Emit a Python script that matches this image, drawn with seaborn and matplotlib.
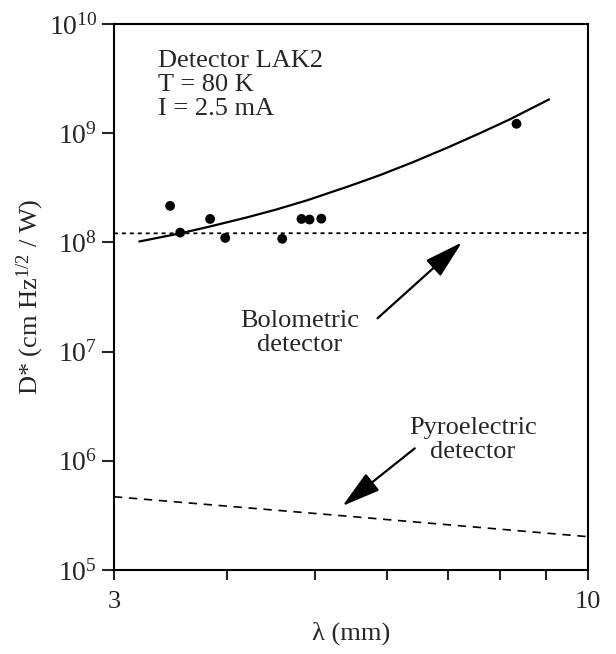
import matplotlib
matplotlib.use("Agg")
import matplotlib.pyplot as plt
import matplotlib.ticker as mticker
import seaborn as sns
import pandas as pd

# measured detectivity of LAK2 (dots)
lam_meas = [3.46, 3.55, 3.83, 3.98, 4.60, 4.83, 4.93, 5.08, 8.34]
dstar_meas = [2.16e8, 1.23e8, 1.64e8, 1.10e8, 1.08e8, 1.64e8, 1.62e8, 1.65e8, 1.22e9]

# solid fit curve
lam_fit = [3.20, 3.55, 3.83, 4.20, 4.53, 4.90, 5.46, 5.90, 6.40, 6.98, 7.60, 8.20, 9.06]
dstar_fit = [1.02e8, 1.21e8, 1.40e8, 1.69e8, 2.00e8, 2.43e8, 3.29e8, 4.14e8,
             5.40e8, 7.31e8, 1.00e9, 1.34e9, 2.04e9]

# reference detectors
lam_bolo = [3.0, 10.0]
dstar_bolo = [1.21e8, 1.22e8]
lam_pyro = [3.0, 5.24, 10.0]
dstar_pyro = [4.69e5, 3.19e5, 2.02e5]

sns.set_style("ticks")
plt.rcParams["font.family"] = ["Liberation Serif", "DejaVu Serif"]
plt.rcParams["mathtext.fontset"] = "custom"
plt.rcParams["mathtext.rm"] = "Liberation Serif"
plt.rcParams["mathtext.it"] = "Liberation Serif:italic"
plt.rcParams["font.size"] = 19

fig = plt.figure(figsize=(6.16, 6.54), dpi=100)
ax = fig.add_axes([0.185, 0.1284, 0.7695, 0.8349])
ax.set_xscale("log")
ax.set_yscale("log")

meas = pd.DataFrame({"lam": lam_meas, "d": dstar_meas})
fit = pd.DataFrame({"lam": lam_fit, "d": dstar_fit})
bolo = pd.DataFrame({"lam": lam_bolo, "d": dstar_bolo})
pyro = pd.DataFrame({"lam": lam_pyro, "d": dstar_pyro})

sns.lineplot(data=fit, x="lam", y="d", color="black", lw=1.6, ax=ax)
sns.lineplot(data=bolo, x="lam", y="d", color="black", lw=1.3,
             linestyle=(0, (2.2, 2.2)), ax=ax)
sns.lineplot(data=pyro, x="lam", y="d", color="black", lw=1.2,
             linestyle=(0, (5, 4)), ax=ax)
sns.scatterplot(data=meas, x="lam", y="d", color="black", s=50,
                edgecolor="none", zorder=5, ax=ax)

ax.set_xlim(3, 10)
ax.set_ylim(1e5, 1e10)

ax.xaxis.set_major_locator(mticker.FixedLocator([3, 10]))
ax.xaxis.set_major_formatter(mticker.FixedFormatter(["3", "10"]))
ax.xaxis.set_minor_locator(mticker.FixedLocator([4, 5, 6, 7, 8, 9]))
ax.xaxis.set_minor_formatter(mticker.NullFormatter())
ax.yaxis.set_major_locator(mticker.LogLocator(base=10, numticks=10))
ax.yaxis.set_major_formatter(mticker.LogFormatterMathtext())
ax.yaxis.set_minor_locator(mticker.NullLocator())

ax.tick_params(axis="x", which="both", direction="out", length=7, width=1.5,
               pad=8, labelsize=19)
ax.tick_params(axis="y", which="major", direction="out", length=9, width=1.5,
               pad=3, labelsize=20)
for sp in ax.spines.values():
    sp.set_linewidth(1.5)
    sp.set_color("black")

ax.set_xlabel("λ (mm)", fontsize=19, labelpad=6)
ax.set_ylabel(r"D* (cm Hz$^{1/2}$ / W)", fontsize=19, labelpad=2)

ax.text(0.093, 0.952, "Detector LAK2\nT = 80 K\nI = 2.5 mA",
        transform=ax.transAxes, ha="left", va="top", fontsize=19,
        linespacing=1.12)

arrow_kw = dict(arrowstyle="-|>,head_length=1.0,head_width=0.28",
                color="black", lw=1.6, shrinkA=0, shrinkB=0,
                mutation_scale=24)

ax.text(4.81, 1.49e7, "Bolometric\ndetector", ha="center", va="center",
        fontsize=19, linespacing=1.12)
ax.annotate("", xy=(7.26, 1.0e8), xytext=(5.86, 2.02e7), arrowprops=arrow_kw)

ax.text(7.46, 1.55e6, "Pyroelectric\ndetector", ha="center", va="center",
        fontsize=19, linespacing=1.12)
ax.annotate("", xy=(5.36, 3.86e5), xytext=(6.44, 1.30e6), arrowprops=arrow_kw)

fig.savefig("out.png", dpi=100)
